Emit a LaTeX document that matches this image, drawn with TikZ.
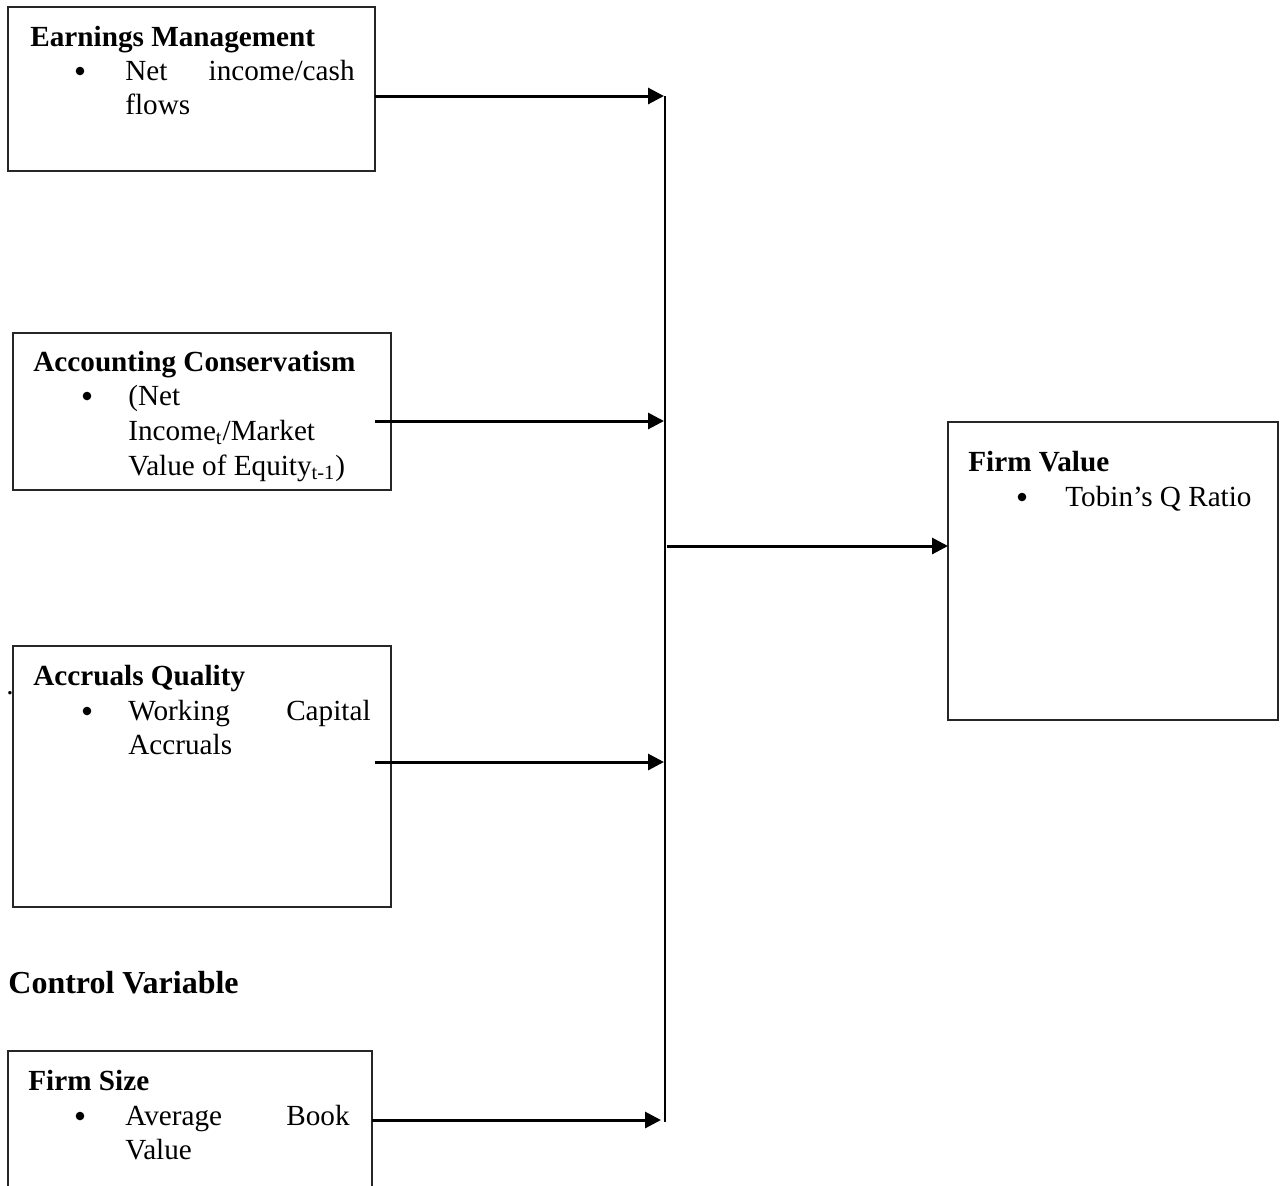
\documentclass[tikz,border=0pt]{standalone}
\usepackage{fontspec}
\setmainfont{Liberation Serif}
\usetikzlibrary{arrows.meta}
\begin{document}
\begin{tikzpicture}[x=0.5pt,y=-0.5pt,
  box/.style={draw=black!85, line width=0.55pt, anchor=north west, inner sep=0pt, outer sep=0pt},
  txt/.style={anchor=base west, inner sep=0pt, font=\fontsize{14.6}{17.25}\selectfont},
  txtr/.style={anchor=base east, inner sep=0pt, font=\fontsize{14.6}{17.25}\selectfont},
  ttl/.style={anchor=base west, inner sep=0pt, font=\fontsize{14.6}{17.25}\selectfont\bfseries},
  bul/.style={circle, fill=black, inner sep=0pt, minimum size=4.3pt},
  arr/.style={line width=1.5pt, -{Triangle[length=8pt,width=8pt]}},
  trunk/.style={line width=0.6pt}
]
\useasboundingbox (0,0) rectangle (1281,1185);

% boxes
\node[box, minimum width=183.5pt, minimum height=82pt] (em) at (8,7) {};
\node[box, minimum width=189pt, minimum height=78.5pt] (ac) at (13,333) {};
\node[box, minimum width=189pt, minimum height=130.5pt] (aq) at (13,646) {};
\node[box, minimum width=182pt, minimum height=75pt] (fs) at (8,1051) {};
\node[box, minimum width=165pt, minimum height=149pt] (fv) at (948,422) {};

% Earnings Management
\node[ttl] (emT) at (30,46) {Earnings Management};
\node[bul] (emB) at (80,71) {};
\node[txt] (emL1a) at (125,80) {Net};
\node[txtr] (emL1b) at (355,80) {income/cash};
\node[txt] (emL2) at (125,114) {flows};

% Accounting Conservatism
\node[ttl] (acT) at (33,371) {Accounting Conservatism};
\node[bul] (acB) at (87,396) {};
\node[txt] (acL1) at (128,405) {(Net};
\node[txt] (acL2) at (128,440) {Income\textsubscript{t}/Market};
\node[txt] (acL3) at (128,475) {Value of Equity\textsubscript{t-1})};

% Accruals Quality
\node[txt] (dot) at (6,694) {.};
\node[ttl] (aqT) at (33,685) {Accruals Quality};
\node[bul] (aqB) at (87,711) {};
\node[txt] (aqL1a) at (128,720) {Working};
\node[txtr] (aqL1b) at (371,720) {Capital};
\node[txt] (aqL2) at (128,754) {Accruals};

% Control Variable
\node[anchor=base west, inner sep=0pt, font=\fontsize{16}{19}\selectfont\bfseries] (cv) at (8,993) {Control Variable};

% Firm Size
\node[ttl] (fsT) at (28,1090) {Firm Size};
\node[bul] (fsB) at (80,1116) {};
\node[txt] (fsL1a) at (125,1125) {Average};
\node[txtr] (fsL1b) at (350,1125) {Book};
\node[txt] (fsL2) at (125,1159) {Value};

% Firm Value
\node[ttl] (fvT) at (968,471) {Firm Value};
\node[bul] (fvB) at (1022,497) {};
\node[txt] (fvL1) at (1065,506) {Tobin’s Q Ratio};

% connectors
\coordinate (ttop) at (665,96);
\coordinate (tbot) at (665,1122);
\draw[trunk] (ttop) -- (tbot);

\coordinate (s1) at (375,96);
\coordinate (e1) at (664,96);
\draw[arr] (s1) -- (e1);

\coordinate (s2) at (375,421);
\coordinate (e2) at (664,421);
\draw[arr] (s2) -- (e2);

\coordinate (s3) at (375,762);
\coordinate (e3) at (664,762);
\draw[arr] (s3) -- (e3);

\coordinate (s4) at (372,1120);
\coordinate (e4) at (661,1120);
\draw[arr] (s4) -- (e4);

\coordinate (s5) at (667,546);
\draw[arr] (s5) -- (fv.west |- s5);
\end{tikzpicture}
\end{document}
